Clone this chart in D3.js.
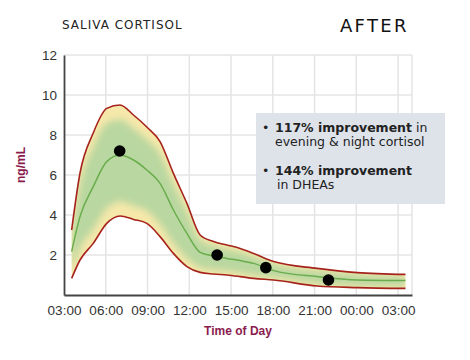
<!DOCTYPE html>
<html><head><meta charset="utf-8">
<script src="https://cdn.jsdelivr.net/npm/d3@7"></script>
<style>body{margin:0;background:#fff}svg{display:block}</style>
</head><body>
<script>
// ---- data ----
const hours = [3.55, 4.15, 5.1, 6.07, 7.03, 7.99, 8.95, 9.9, 10.86, 11.83, 12.78, 13.74, 14.7, 15.66, 16.62, 18.06, 21.18, 24.06, 27.53];
const upper = [3.25, 6.1, 8.1, 9.33, 9.5, 9.0, 8.4, 7.67, 6.08, 4.58, 3.0, 2.67, 2.5, 2.33, 2.08, 1.67, 1.33, 1.12, 1.03];
const middle = [2.17, 3.92, 5.42, 6.67, 7.0, 6.75, 6.25, 5.58, 4.25, 3.08, 2.13, 1.95, 1.83, 1.72, 1.58, 1.22, 0.92, 0.75, 0.72];
const lower = [0.83, 1.75, 2.58, 3.58, 3.95, 3.78, 3.58, 2.92, 2.08, 1.42, 1.13, 1.05, 1.0, 0.92, 0.83, 0.75, 0.45, 0.37, 0.33];
const sampleHours = [7, 14, 17.5, 22];
const sampleValues = [7.2, 2.0, 1.37, 0.75];
const xTickHours = [3, 6, 9, 12, 15, 18, 21, 24, 27];
const xTickLabels = ["03:00", "06:00", "09:00", "12:00", "15:00", "18:00", "21:00", "00:00", "03:00"];
const yTicks = [2, 4, 6, 8, 10, 12];
const title = "SALIVA CORTISOL";
const tag = "AFTER";
const yLabel = "ng/mL";
const xLabel = "Time of Day";

const W = 470, H = 360;
const svg = d3.select("body").append("svg").attr("width", W).attr("height", H);

const x = d3.scaleLinear().domain([3, 28]).range([64, 412]);
const y = d3.scaleLinear().domain([0, 12]).range([295, 55]);

const rows = hours.map((h, i) => ({h, up: upper[i], mid: middle[i], lo: lower[i]}));

// grid
const grid = svg.append("g");
grid.selectAll("line.v").data(xTickHours.concat([28]).slice(1)).join("line")
  .attr("x1", d => x(d)).attr("x2", d => x(d)).attr("y1", y(12)).attr("y2", y(0))
  .attr("stroke", "#e4e4e4").attr("stroke-width", 1.5);
grid.selectAll("line.h").data(yTicks).join("line")
  .attr("x1", x(3)).attr("x2", x(28)).attr("y1", d => y(d)).attr("y2", d => y(d))
  .attr("stroke", "#e4e4e4").attr("stroke-width", 1.5);

// band
const defs = svg.append("defs");
defs.append("filter").attr("id", "blur").attr("x", "-20%").attr("y", "-20%").attr("width", "140%").attr("height", "140%")
  .append("feGaussianBlur").attr("stdDeviation", 3.5);
const curve = d3.curveMonotoneX;
const bandArea = d3.area().x(d => x(d.h)).y0(d => y(d.lo)).y1(d => y(d.up)).curve(curve);
defs.append("clipPath").attr("id", "bandclip").append("path").attr("d", bandArea(rows));
svg.append("path").attr("d", bandArea(rows)).attr("fill", "#f6e8aa");
const inner = d3.area().x(d => x(d.h))
  .y0(d => y(d.lo + 0.13 * (d.up - d.lo)))
  .y1(d => y(d.up - 0.13 * (d.up - d.lo))).curve(curve);
svg.append("g").attr("clip-path", "url(#bandclip)")
  .append("path").attr("d", inner(rows)).attr("fill", "#b9d7a0").attr("filter", "url(#blur)");

const line = acc => d3.line().x(d => x(d.h)).y(d => y(acc(d))).curve(curve);
svg.append("path").attr("d", line(d => d.up)(rows)).attr("fill", "none").attr("stroke", "#a6231c").attr("stroke-width", 1.6);
svg.append("path").attr("d", line(d => d.lo)(rows)).attr("fill", "none").attr("stroke", "#a6231c").attr("stroke-width", 1.6);
svg.append("path").attr("d", line(d => d.mid)(rows)).attr("fill", "none").attr("stroke", "#6aad4c").attr("stroke-width", 1.5);

// axes
const xAxis = d3.axisBottom(x).tickValues(xTickHours).tickFormat((d, i) => xTickLabels[i]).tickSize(0).tickPadding(10);
const gx = svg.append("g").attr("transform", `translate(0,${y(0)})`).call(xAxis);
gx.select(".domain").attr("stroke", "#444").attr("stroke-width", 1.8);
gx.selectAll("text").attr("font-family", "Liberation Sans, Arial, sans-serif").attr("font-size", 13.5).attr("fill", "#333");

const yAxis = d3.axisLeft(y).tickValues(yTicks).tickSize(0).tickPadding(7);
const gy = svg.append("g").attr("transform", `translate(${x(3)},0)`).call(yAxis);
gy.select(".domain").attr("stroke", "#444").attr("stroke-width", 1.8);
gy.selectAll("text").attr("font-family", "Liberation Sans, Arial, sans-serif").attr("font-size", 13.5).attr("fill", "#333");

// info box
svg.append("rect").attr("x", 256).attr("y", 113).attr("width", 189).attr("height", 91).attr("fill", "#dee3ea");
const tf = "DejaVu Sans, sans-serif";
const t1 = svg.append("text").attr("x", 262).attr("y", 132).attr("font-family", tf).attr("font-size", 12.5).attr("fill", "#222");
t1.append("tspan").text("•  ");
t1.append("tspan").attr("x", 275).attr("font-weight", "bold").text("117% improvement");
t1.append("tspan").text(" in");
svg.append("text").attr("x", 275).attr("y", 146).attr("font-family", tf).attr("font-size", 12.5).attr("fill", "#222").text("evening & night cortisol");
const t3 = svg.append("text").attr("x", 262).attr("y", 175).attr("font-family", tf).attr("font-size", 12.5).attr("fill", "#222");
t3.append("tspan").text("•");
t3.append("tspan").attr("x", 275).attr("font-weight", "bold").text("144% improvement");
svg.append("text").attr("x", 277).attr("y", 189).attr("font-family", tf).attr("font-size", 12.5).attr("fill", "#222").text("in DHEAs");

// dots
svg.selectAll("circle.s").data(sampleHours).join("circle")
  .attr("cx", d => x(d)).attr("cy", (d, i) => y(sampleValues[i])).attr("r", 5.8).attr("fill", "#000");

// titles
svg.append("text").attr("x", 62).attr("y", 29).attr("font-family", tf).attr("font-size", 12).attr("letter-spacing", 1).attr("fill", "#222").text(title);
svg.append("text").attr("x", 340).attr("y", 32).attr("font-family", tf).attr("font-size", 18).attr("letter-spacing", 2.3).attr("fill", "#111").text(tag);

svg.append("text").attr("transform", "translate(25,165) rotate(-90)").attr("text-anchor", "middle")
  .attr("font-family", "Liberation Sans, Arial, sans-serif").attr("font-weight", "bold").attr("font-size", 12).attr("fill", "#8a1c4e").text(yLabel);
svg.append("text").attr("x", 238).attr("y", 335).attr("text-anchor", "middle")
  .attr("font-family", "Liberation Sans, Arial, sans-serif").attr("font-weight", "bold").attr("font-size", 12).attr("fill", "#8a1c4e").text(xLabel);
</script>
</body></html>
